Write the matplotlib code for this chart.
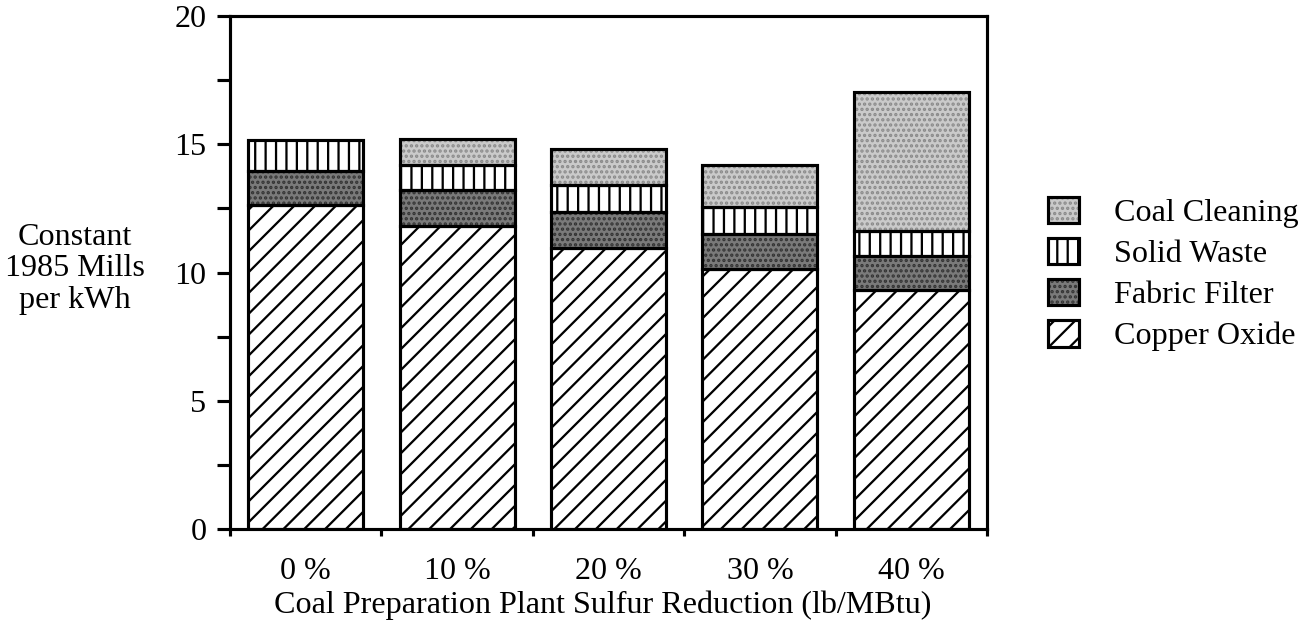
import matplotlib
matplotlib.use("Agg")
import matplotlib.pyplot as plt
import numpy as np
from matplotlib.patches import Patch
from matplotlib.legend_handler import HandlerTuple

categories = ["0 %", "10 %", "20 %", "30 %", "40 %"]
copper_oxide = [12.65, 11.8, 10.95, 10.15, 9.3]
fabric_filter = [1.3, 1.4, 1.4, 1.35, 1.35]
solid_waste = [1.2, 1.0, 1.05, 1.05, 0.95]
coal_cleaning = [0.0, 1.0, 1.4, 1.65, 5.45]
yticks = [0, 5, 10, 15, 20]

plt.rcParams['font.family'] = ['Liberation Serif', 'DejaVu Serif']
plt.rcParams['hatch.linewidth'] = 1.3

DPI = 125
FS = 18.5
fig = plt.figure(figsize=(1310 / DPI, 628 / DPI), dpi=DPI)
ax = fig.add_axes([230 / 1310, 1 - 529 / 628, (987 - 230) / 1310, (529 - 16) / 628])

x = np.arange(len(categories))
w = 0.76
series = [
    ("Copper Oxide", copper_oxide, "white", "//", "black"),
    ("Fabric Filter", fabric_filter, "#7a7a7a", "....", "#333333"),
    ("Solid Waste", solid_waste, "white", "||", "black"),
    ("Coal Cleaning", coal_cleaning, "#cacaca", "....", "#8a8a8a"),
]
bottom = np.zeros(len(categories))
handles = {}
for name, vals, fc, hatch, hc in series:
    vals = np.array(vals)
    mask = vals > 0
    ax.bar(x[mask], vals[mask], w, bottom=bottom[mask], color=fc, hatch=hatch,
           edgecolor=hc, linewidth=0, zorder=2)
    ax.bar(x[mask], vals[mask], w, bottom=bottom[mask], fill=False,
           edgecolor="black", linewidth=1.8, zorder=3)
    handles[name] = (Patch(facecolor=fc, hatch=hatch, edgecolor=hc, linewidth=0),
                     Patch(fill=False, edgecolor="black", linewidth=1.8))
    bottom += vals

ax.set_xlim(-0.5, len(categories) - 0.5)
ax.set_ylim(0, 20)
ax.set_yticks(yticks)
ax.set_yticks(np.arange(2.5, 20, 5), minor=True)
ax.tick_params(axis='y', which='both', direction='out', length=7.5, width=1.8,
               labelsize=FS, pad=6)
ax.set_xticks(np.arange(-0.5, len(categories)))
ax.set_xticklabels([])
ax.set_xticks(x, minor=True)
ax.set_xticklabels(categories, minor=True)
ax.tick_params(axis='x', which='major', direction='out', length=4, width=1.8)
ax.tick_params(axis='x', which='minor', length=0, labelsize=FS, pad=16)
for s in ax.spines.values():
    s.set_linewidth(1.8)

fig.text(603 / 1310, 1 - 605 / 628, "Coal Preparation Plant Sulfur Reduction (lb/MBtu)",
         ha='center', va='center', fontsize=FS)
fig.text(75 / 1310, 1 - 269 / 628, "Constant\n1985 Mills\nper kWh",
         ha='center', va='center', fontsize=FS, multialignment='center', linespacing=1.12)

order = ["Coal Cleaning", "Solid Waste", "Fabric Filter", "Copper Oxide"]
leg = fig.legend([handles[n] for n in order], order, loc='center left',
                 bbox_to_anchor=(1048 / 1310, 1 - 274 / 628), frameon=False,
                 fontsize=FS, handlelength=0.95, handleheight=0.9, borderpad=0,
                 borderaxespad=0, handletextpad=1.1, labelspacing=0.3,
                 handler_map={tuple: HandlerTuple(ndivide=1, pad=0)})

fig.savefig("out.png", dpi=DPI)
